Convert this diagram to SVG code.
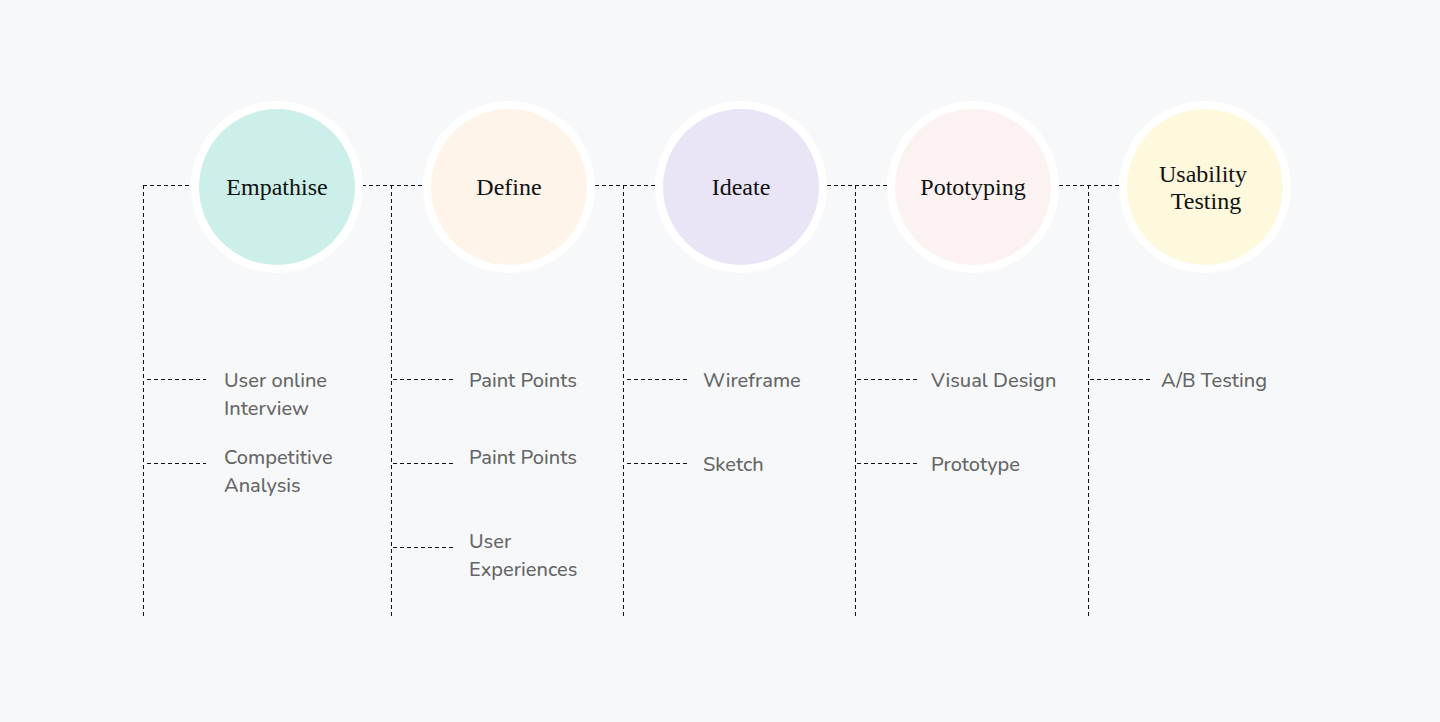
<svg xmlns="http://www.w3.org/2000/svg" width="1440" height="722" viewBox="0 0 1440 722">
<style>
.bg{fill:#F7F8FA}
.ring{fill:#FFFFFF}
.dash{stroke:#111;stroke-width:1;stroke-dasharray:4 3;fill:none}
.title{font-family:"Liberation Serif","DejaVu Serif",serif;font-size:24px;fill:#111;text-anchor:middle;dominant-baseline:central}
.item{font-family:"Nunito","Lato","Noto Sans",sans-serif;font-size:20px;font-weight:500;fill:#666}
</style>
<rect class="bg" x="0" y="0" width="1440" height="722"/>
<g id="connectors">
  <path class="dash" d="M143 185.5H192M362 185.5H424M595 185.5H656M827 185.5H888M1059 185.5H1120"/>
  <path class="dash" d="M143.5 185V617M391.5 185V617M623.5 185V617M855.5 185V617M1088.5 185V617"/>
  <path class="dash" d="M147 379.5H206M147 463.5H206"/>
  <path class="dash" d="M393 379.5H455M393 463.5H455M393 547.5H455"/>
  <path class="dash" d="M627 379.5H687M627 463.5H687"/>
  <path class="dash" d="M857 379.5H918M857 463.5H918"/>
  <path class="dash" d="M1090 379.5H1150"/>
</g>
<g id="empathise">
  <circle class="ring" cx="277" cy="187" r="86"/>
  <circle cx="277" cy="187" r="78" fill="#CDEFE9"/>
  <text class="title" x="277" y="187">Empathise</text>
</g>
<g id="define">
  <circle class="ring" cx="509" cy="187" r="86"/>
  <circle cx="509" cy="187" r="78" fill="#FFF4EA"/>
  <text class="title" x="509" y="187">Define</text>
</g>
<g id="ideate">
  <circle class="ring" cx="741" cy="187" r="86"/>
  <circle cx="741" cy="187" r="78" fill="#E9E5F6"/>
  <text class="title" x="741" y="187">Ideate</text>
</g>
<g id="prototyping">
  <circle class="ring" cx="973" cy="187" r="86"/>
  <circle cx="973" cy="187" r="78" fill="#FDF2F2"/>
  <text class="title" x="973" y="187">Pototyping</text>
</g>
<g id="usability">
  <circle class="ring" cx="1205" cy="187" r="86"/>
  <circle cx="1205" cy="187" r="78" fill="#FEF8DC"/>
  <text class="title" x="1203" y="174">Usability</text>
  <text class="title" x="1206" y="201">Testing</text>
</g>
<g id="empathise-items">
  <text class="item" x="224" y="387">User online</text>
  <text class="item" x="224" y="415">Interview</text>
  <text class="item" x="224" y="464">Competitive</text>
  <text class="item" x="224" y="492">Analysis</text>
</g>
<g id="define-items">
  <text class="item" x="469" y="387">Paint Points</text>
  <text class="item" x="469" y="464">Paint Points</text>
  <text class="item" x="469" y="548">User</text>
  <text class="item" x="469" y="576">Experiences</text>
</g>
<g id="ideate-items">
  <text class="item" x="703" y="387">Wireframe</text>
  <text class="item" x="703" y="471">Sketch</text>
</g>
<g id="prototyping-items">
  <text class="item" x="931" y="387">Visual Design</text>
  <text class="item" x="931" y="471">Prototype</text>
</g>
<g id="usability-items">
  <text class="item" x="1161" y="387">A/B Testing</text>
</g>
</svg>
